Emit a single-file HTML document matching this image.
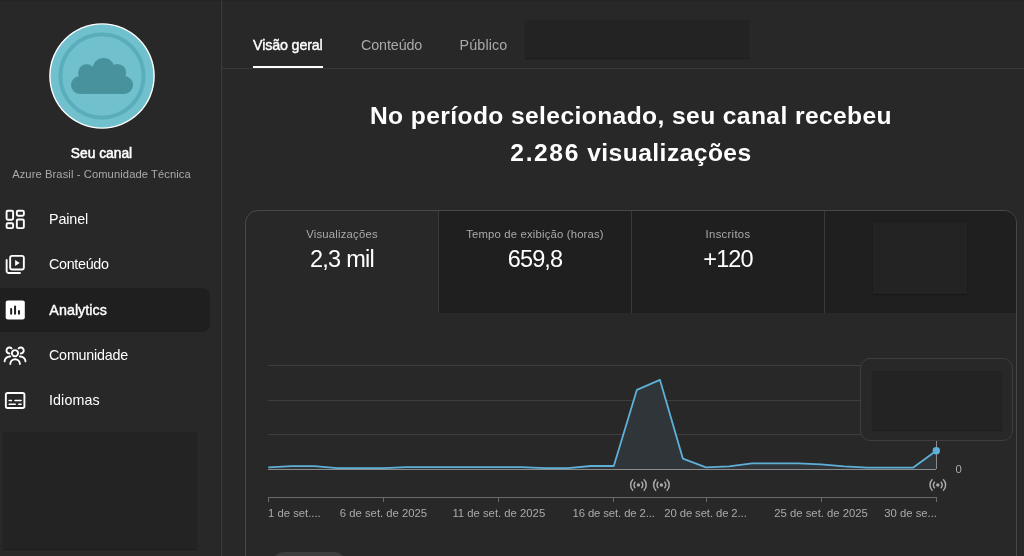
<!DOCTYPE html>
<html lang="pt-BR">
<head>
<meta charset="utf-8">
<title>Analytics do canal</title>
<style>
*{box-sizing:border-box;margin:0;padding:0}
html,body{width:1024px;height:556px;overflow:hidden;background:#282828;font-family:"Liberation Sans",Arial,sans-serif;color:#fff}
.abs{position:absolute}
#topshadow{left:0;top:0;width:1024px;height:2px;background:linear-gradient(#222,#272727)}
#sidebar{left:0;top:0;width:222px;height:556px;border-right:1px solid #383838;box-shadow:1px 0 0 #2b2b2b}
#avatar{left:49px;top:23px;width:106px;height:106px}
.t{position:absolute;white-space:nowrap;line-height:1}
.med{-webkit-text-stroke:0.4px #fff}
.nav{left:49px;font-size:14.3px;color:#fff}
#active{left:0;top:288px;width:210px;height:44px;background:#1f1f1f;border-radius:0 8px 8px 0}
.redact{background:#232323;box-shadow:0 1px 1px rgba(0,0,0,.25)}
#tabline{left:222px;top:68px;width:802px;height:1px;background:#393939}
#tabul{left:253px;top:66px;width:70px;height:2px;background:#fff}
#card{left:245px;top:210px;width:772px;height:400px;border:1px solid #484848;border-radius:13px 13px 0 0;overflow:hidden}
.mtab{position:absolute;top:0;height:102px;background:#1f1f1f;border-left:1px solid #3a3a3a}
.lbl{font-size:11.3px;color:#aaa}
.ax{font-size:11.3px;color:#aaa}
#tip{left:860px;top:358px;width:153px;height:83px;border:1px solid #3e3e3e;border-radius:10px;background:#282828}
.val{font-size:23.5px;color:#fff}
</style>
</head>
<body>
<div class="abs" id="topshadow"></div>
<div class="abs" id="sidebar"></div>

<svg class="abs" id="avatar" viewBox="0 0 106 106">
  <circle cx="53" cy="53" r="52.8" fill="#fff"/>
  <circle cx="53" cy="53" r="51.4" fill="#70c0cd"/>
  <circle cx="53" cy="53" r="41.6" fill="none" stroke="#5aadba" stroke-width="3.9"/>
  <g fill="#47929c">
    <circle cx="30.9" cy="62" r="8.9"/>
    <circle cx="75.1" cy="62" r="8.9"/>
    <rect x="30.9" y="60" width="44.2" height="10.9"/>
    <circle cx="37.6" cy="49.7" r="8.5"/>
    <circle cx="68.5" cy="49.7" r="8.7"/>
    <circle cx="54.6" cy="46.1" r="11"/>
    <rect x="32" y="50" width="42" height="14"/>
  </g>
</svg>

<div class="t" style="left:0;width:203px;text-align:center;top:147px;font-size:13.8px;-webkit-text-stroke:0.5px #fff;color:#fff">Seu canal</div>
<div class="t" style="left:0;width:203px;text-align:center;top:169px;font-size:11.2px;letter-spacing:0.09px;color:#aaa">Azure Brasil - Comunidade Técnica</div>

<div class="abs" id="active"></div>
<div class="t nav" style="top:212px;letter-spacing:-0.1px">Painel</div>
<div class="t nav" style="top:257px;letter-spacing:-0.3px">Conteúdo</div>
<div class="t nav med" style="left:49.3px;top:303px;letter-spacing:0.05px">Analytics</div>
<div class="t nav" style="top:348px;letter-spacing:-0.2px">Comunidade</div>
<div class="t nav" style="top:393px;letter-spacing:0.1px">Idiomas</div>

<div class="abs redact" style="left:3px;top:432px;width:194px;height:117px"></div>

<!-- top tabs -->
<div class="t" style="left:253px;top:38px;font-size:14.3px;letter-spacing:-0.15px;color:#fff;-webkit-text-stroke:0.4px #fff">Visão geral</div>
<div class="t" style="left:361px;top:38px;font-size:14.3px;letter-spacing:-0.1px;color:#aaa">Conteúdo</div>
<div class="t" style="left:459.5px;top:38px;font-size:14.3px;letter-spacing:0.15px;color:#aaa">Público</div>
<div class="abs redact" style="left:525px;top:20px;width:224px;height:38px"></div>
<div class="abs" id="tabline"></div>
<div class="abs" id="tabul"></div>

<div class="t" style="left:222px;width:818px;text-align:center;top:104px;font-size:24.6px;letter-spacing:0.4px;font-weight:bold">No período selecionado, seu canal recebeu</div>
<div class="t" style="left:222px;width:818px;text-align:center;top:141px;font-size:24.6px;letter-spacing:0.45px;font-weight:bold"><span style="letter-spacing:1.6px">2.286</span> visualizações</div>

<div class="abs" id="card">
  <div class="mtab" style="left:192px;width:193px"></div>
  <div class="mtab" style="left:385px;width:193px"></div>
  <div class="mtab" style="left:578px;width:194px"></div>
  <div class="t lbl" style="left:0;width:192px;text-align:center;top:18px;letter-spacing:0.2px">Visualizações</div>
  <div class="t val" style="left:0;width:192px;text-align:center;top:37px;letter-spacing:-0.75px">2,3 mil</div>
  <div class="t lbl" style="left:193px;width:192px;text-align:center;top:18px;letter-spacing:0.175px">Tempo de exibição (horas)</div>
  <div class="t val" style="left:193px;width:192px;text-align:center;top:37px;letter-spacing:-0.9px">659,8</div>
  <div class="t lbl" style="left:386px;width:192px;text-align:center;top:18px;letter-spacing:0.3px">Inscritos</div>
  <div class="t val" style="left:386px;width:192px;text-align:center;top:37px;letter-spacing:-0.9px">+120</div>
  <div class="abs redact" style="left:627px;top:12px;width:94px;height:71px"></div>
</div>

<svg class="abs" id="gfx" style="left:0;top:0" width="1024" height="556" viewBox="0 0 1024 556">
  <!-- nav icons -->
  <g fill="none" stroke="#fff" stroke-width="1.9" stroke-linejoin="round" stroke-linecap="round">
    <rect x="6.6" y="210.75" width="6.5" height="9" rx="1.2"/>
    <rect x="16.85" y="210.75" width="7" height="5" rx="1.2"/>
    <rect x="6.6" y="223.3" width="6.5" height="4.85" rx="1.2"/>
    <rect x="16.85" y="219.55" width="7" height="8.6" rx="1.2"/>
    <rect x="10.15" y="255.85" width="13.7" height="13.7" rx="2"/>
    <path d="M6.65,259.9 V271 a2,2 0 0 0 2,2 H20"/>
    <path d="M15.0,353.2 m-3.1,0 a3.1,3.1 0 1 0 6.2,0 a3.1,3.1 0 1 0 -6.2,0"/>
    <path d="M10.3,364 a4.8,4.8 0 0 1 9.6,0"/>
    <path d="M11.6,348.4 a3,3 0 1 0 -2.2,5.1"/>
    <path d="M18.6,348.4 a3,3 0 1 1 2.2,5.1"/>
    <path d="M4.6,361.4 a5.2,5.2 0 0 1 5.6,-4.9"/>
    <path d="M25.5,361.4 a5.2,5.2 0 0 0 -5.6,-4.9"/>
    <rect x="5.85" y="393" width="18.55" height="15" rx="1.8"/>
  </g>
  <path d="M15.1,260.1 L19.7,263 L15.1,265.9 Z" fill="#fff"/>
  <rect x="5.7" y="300.4" width="19.1" height="19.1" rx="2.2" fill="#fff"/>
  <g stroke="#1f1f1f" stroke-width="2" stroke-linecap="round">
    <path d="M11.15,309 V313.8"/><path d="M15.05,306.5 V313.8"/><path d="M19,311 V313.8"/>
  </g>
  <g stroke="#fff" stroke-width="1.6" stroke-linecap="round">
    <path d="M9.2,400.5 H11.4"/><path d="M15,400.5 H21"/><path d="M9.2,404.3 H15.2"/><path d="M18.8,404.3 H21"/>
  </g>
  <!-- chart -->
  <g stroke="#3e3e3e" stroke-width="1" shape-rendering="crispEdges">
    <path d="M268,365.5 H936"/><path d="M268,400.5 H936"/><path d="M268,434.5 H936"/>
  </g>
  <path d="M268.3,469 L268.3,467.4 L291.3,466.2 L314.4,466.2 L337.4,468.1 L360.4,468.1 L383.5,468.1 L406.5,467.2 L429.5,467.2 L452.6,467.2 L475.6,467.2 L498.6,467.2 L521.7,467.2 L544.7,468.1 L567.7,468.1 L590.8,466.0 L613.8,466.0 L636.9,389.8 L659.9,379.8 L682.9,458.7 L706.0,467.4 L729.0,466.3 L752.0,463.3 L775.1,463.3 L798.1,463.3 L821.1,464.3 L844.2,466.3 L867.2,467.6 L890.2,467.6 L913.3,467.6 L936.3,450.8 L936.3,469 Z" fill="#2f3538"/>
  <path d="M268,469.5 H936" stroke="#8a8a8a" stroke-width="1" shape-rendering="crispEdges"/>
  <path d="M936.5,440 V469" stroke="#8a8a8a" stroke-width="1" shape-rendering="crispEdges"/>
  <polyline points="268.3,467.4 291.3,466.2 314.4,466.2 337.4,468.1 360.4,468.1 383.5,468.1 406.5,467.2 429.5,467.2 452.6,467.2 475.6,467.2 498.6,467.2 521.7,467.2 544.7,468.1 567.7,468.1 590.8,466.0 613.8,466.0 636.9,389.8 659.9,379.8 682.9,458.7 706.0,467.4 729.0,466.3 752.0,463.3 775.1,463.3 798.1,463.3 821.1,464.3 844.2,466.3 867.2,467.6 890.2,467.6 913.3,467.6 936.3,450.8" fill="none" stroke="#5fb0d8" stroke-width="1.8" stroke-linejoin="round"/>
  <circle cx="936.3" cy="450.8" r="3.7" fill="#5fb0d8"/>
  <path d="M633.08,479.30 A7.8,7.8 0 0 0 633.08,490.70 M643.72,479.30 A7.8,7.8 0 0 1 643.72,490.70 M635.40,481.78 A4.4,4.4 0 0 0 635.40,488.22 M641.40,481.78 A4.4,4.4 0 0 1 641.40,488.22" fill="none" stroke="#aaa" stroke-width="1.5"/><circle cx="638.4" cy="485" r="1.7" fill="#aaa"/><path d="M656.08,479.30 A7.8,7.8 0 0 0 656.08,490.70 M666.72,479.30 A7.8,7.8 0 0 1 666.72,490.70 M658.40,481.78 A4.4,4.4 0 0 0 658.40,488.22 M664.40,481.78 A4.4,4.4 0 0 1 664.40,488.22" fill="none" stroke="#aaa" stroke-width="1.5"/><circle cx="661.4" cy="485" r="1.7" fill="#aaa"/><path d="M932.48,479.30 A7.8,7.8 0 0 0 932.48,490.70 M943.12,479.30 A7.8,7.8 0 0 1 943.12,490.70 M934.80,481.78 A4.4,4.4 0 0 0 934.80,488.22 M940.80,481.78 A4.4,4.4 0 0 1 940.80,488.22" fill="none" stroke="#aaa" stroke-width="1.5"/><circle cx="937.8" cy="485" r="1.7" fill="#aaa"/>
  <g stroke="#6a6a6a" stroke-width="1" shape-rendering="crispEdges">
    <path d="M268,497.5 H936"/>
    <path d="M268.5,497 V502"/><path d="M383.5,497 V502"/><path d="M498.5,497 V502"/><path d="M613.5,497 V502"/><path d="M706.5,497 V502"/><path d="M821.5,497 V502"/><path d="M936.5,497 V502"/>
  </g>
</svg>
<div class="abs" id="tip"><div class="abs redact" style="left:11px;top:12px;width:130px;height:59px"></div></div>
<div class="t ax" style="left:268px;top:508px">1 de set....</div>
<div class="t ax" style="left:283.5px;width:200px;text-align:center;top:508px">6 de set. de 2025</div>
<div class="t ax" style="left:398.8px;width:200px;text-align:center;top:508px">11 de set. de 2025</div>
<div class="t ax" style="left:513.7px;width:200px;text-align:center;top:508px;letter-spacing:-0.1px">16 de set. de 2...</div>
<div class="t ax" style="left:605.5px;width:200px;text-align:center;top:508px;letter-spacing:-0.1px">20 de set. de 2...</div>
<div class="t ax" style="left:721.1px;width:200px;text-align:center;top:508px">25 de set. de 2025</div>
<div class="t ax" style="left:737px;width:200px;text-align:right;top:508px">30 de se...</div>
<div class="t ax" style="left:955.6px;top:464px">0</div>
<div class="abs" style="left:270px;top:552px;width:78px;height:30px;border-radius:15px;background:#3d3d3d"></div>

</body>
</html>
